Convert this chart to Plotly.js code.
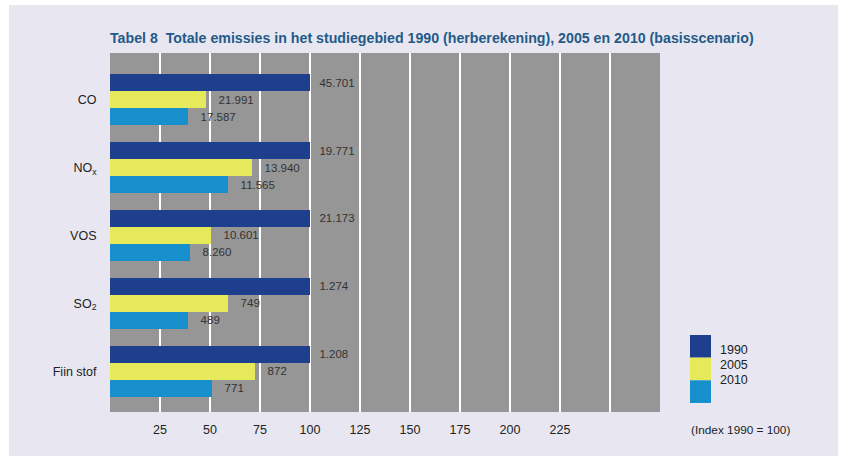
<!DOCTYPE html>
<html>
<head>
<meta charset="utf-8">
<script src="https://cdn.plot.ly/plotly-3.0.1.min.js"></script>
<style>
  html, body { margin: 0; padding: 0; background: #ffffff; }
  #chart { position: absolute; left: 9px; top: 5px; width: 829px; height: 451px; }
</style>
</head>
<body>
<div id="chart"></div>
<script>
// ---- data ----
var categories = ['CO', 'NO<sub>x</sub>', 'VOS', 'SO<sub>2</sub>', 'Fiin stof'];
var years = ['1990', '2005', '2010'];
var index1990 = [100, 100, 100, 100, 100];
var index2005 = [48, 71, 50.5, 59, 72.5];
var index2010 = [39, 59, 40, 39, 51];
var labels1990 = ['45.701', '19.771', '21.173', '1.274', '1.208'];
var labels2005 = ['21.991', '13.940', '10.601', '749', '872'];
var labels2010 = ['17.587', '11.565', '8.260', '489', '771'];
var xTickVals = [25, 50, 75, 100, 125, 150, 175, 200, 225, 250];
var xTickText = ['25', '50', '75', '100', '125', '150', '175', '200', '225', ' '];
var titleText = 'Tabel 8&nbsp;&nbsp;Totale emissies in het studiegebied 1990 (herberekening), 2005 en 2010 (basisscenario)';
var indexNote = '(Index 1990 = 100)';

// ---- styling ----
var colors = ['#1e3e8e', '#e6ea5a', '#168fcc'];
var pads = ['\u00a0\u00a0', '\u00a0\u00a0\u00a0', '\u00a0\u00a0\u00a0'];
var font = 'Liberation Sans, Arial, sans-serif';

var series = [index1990, index2005, index2010];
var labels = [labels1990, labels2005, labels2010];

var traces = series.map(function (vals, i) {
  return {
    type: 'bar',
    orientation: 'h',
    name: years[i],
    y: categories,
    x: vals,
    text: labels[i],
    texttemplate: pads[i] + '%{text}',
    textposition: 'outside',
    constraintext: 'none',
    cliponaxis: false,
    textfont: { family: font, size: 11.5, color: '#333333' },
    marker: { color: colors[i], line: { width: 0 } },
    hoverinfo: 'skip'
  };
});

// custom legend (contiguous colour blocks)
var shapes = [];
var annotations = [];
var blockTop = 0.2145, blockH = 0.0631;
var labelY = [0.1727, 0.1309, 0.0891];
years.forEach(function (yr, i) {
  shapes.push({
    type: 'rect', xref: 'paper', yref: 'paper',
    x0: 1.0545, x1: 1.0927,
    y0: blockTop - (i + 1) * blockH, y1: blockTop - i * blockH,
    fillcolor: colors[i], line: { width: 0 }
  });
  annotations.push({
    xref: 'paper', yref: 'paper', x: 1.105, y: labelY[i],
    xanchor: 'left', yanchor: 'middle', showarrow: false,
    text: yr, font: { family: font, size: 12.5, color: '#222222' }
  });
});
annotations.push({
  xref: 'paper', yref: 'paper', x: 1.1455, y: -0.05,
  xanchor: 'center', yanchor: 'middle', showarrow: false,
  text: indexNote, font: { family: font, size: 11.8, color: '#222222' }
});

var layout = {
  width: 829, height: 451,
  paper_bgcolor: '#e8e7f1',
  plot_bgcolor: '#969696',
  margin: { l: 101, r: 178, t: 48, b: 44 },
  showlegend: false,
  barmode: 'group',
  bargap: 0.25,
  bargroupgap: 0,
  title: {
    text: titleText,
    xref: 'paper', x: 0, xanchor: 'left',
    yref: 'container', y: 0.927, yanchor: 'middle',
    font: { family: font, size: 14.2, color: '#245a88', weight: 'bold' }
  },
  xaxis: {
    range: [0, 275],
    tickvals: xTickVals,
    ticktext: xTickText,
    showgrid: true, gridcolor: '#ffffff', gridwidth: 2,
    zeroline: false, showline: false,
    ticks: 'outside', ticklen: 6, tickcolor: 'rgba(0,0,0,0)',
    tickfont: { family: font, size: 12.5, color: '#222222' },
    fixedrange: true
  },
  yaxis: {
    type: 'category',
    categoryorder: 'array', categoryarray: categories,
    range: [4.596, -0.684],
    showgrid: false, zeroline: false, showline: false,
    ticks: 'outside', ticklen: 10, tickcolor: 'rgba(0,0,0,0)',
    tickfont: { family: font, size: 12.5, color: '#222222' },
    fixedrange: true
  },
  shapes: shapes,
  annotations: annotations
};

Plotly.newPlot('chart', traces, layout, { displayModeBar: false, staticPlot: true });
</script>
</body>
</html>
